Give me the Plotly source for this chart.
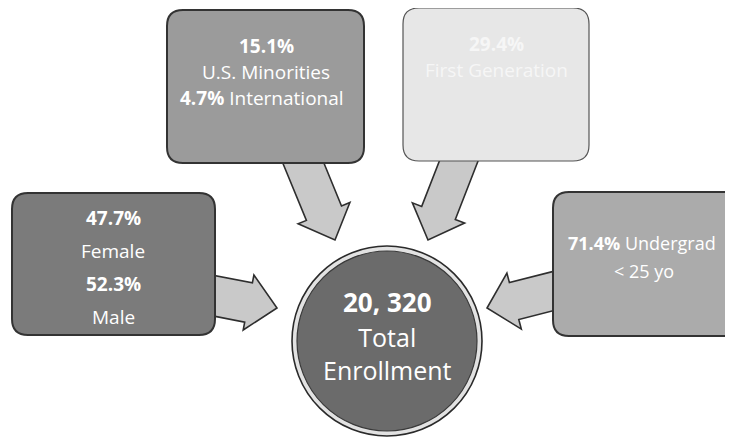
import math
import plotly.graph_objects as go

# ---- data (text values) ----
total_enrollment = "20, 320"
total_label = ["Total", "Enrollment"]
gender_pcts = ["47.7%", "52.3%"]
gender_labels = ["Female", "Male"]
diversity_pcts = ["15.1%", "4.7%"]
diversity_labels = ["U.S. Minorities", "International"]
faint_pct = "29.4%"
faint_label = "First Generation"
age_pct = "71.4%"
age_labels = ["Undergrad", "< 25 yo"]

W, H = 733, 437
OFF = 8  # page body margin
FONT = "Open Sans"

fig = go.Figure()
shapes = []
annotations = []


def rrect(x0, y0, x1, y1, r):
    return (f"M {x0+r},{y0} L {x1-r},{y0} Q {x1},{y0} {x1},{y0+r} "
            f"L {x1},{y1-r} Q {x1},{y1} {x1-r},{y1} L {x0+r},{y1} "
            f"Q {x0},{y1} {x0},{y1-r} L {x0},{y0+r} Q {x0},{y0} {x0+r},{y0} Z")


def arrow(sx, sy, tx, ty, w, hw, hl):
    dx, dy = tx - sx, ty - sy
    L = math.hypot(dx, dy)
    ux, uy = dx / L, dy / L
    nx, ny = -uy, ux
    bx, by = tx - ux * hl, ty - uy * hl
    pts = [(sx + nx * w, sy + ny * w), (bx + nx * w, by + ny * w),
           (bx + nx * hw, by + ny * hw), (tx, ty),
           (bx - nx * hw, by - ny * hw), (bx - nx * w, by - ny * w),
           (sx - nx * w, sy - ny * w)]
    return "M " + " L ".join(f"{x:.1f},{y:.1f}" for x, y in pts) + " Z"


def add_path(path, fill, line="#2e2e2e", width=1.6):
    shapes.append(dict(type="path", path=path, xref="x", yref="y",
                       fillcolor=fill, line=dict(color=line, width=width),
                       layer="above"))


def text(x, y, s, size, color="white"):
    annotations.append(dict(x=x, y=y, xref="x", yref="y", text=s, showarrow=False,
                            font=dict(family=FONT, size=size, color=color),
                            xanchor="center", yanchor="middle"))


ARROW_FILL = "#c9c9c9"
# arrows (drawn first, boxes cover their tails)
add_path(arrow(298, 150, 335, 240, 19, 28, 29), ARROW_FILL)
add_path(arrow(463, 150, 428, 240, 18, 28, 29), ARROW_FILL)
add_path(arrow(205, 294, 277, 308, 20, 28, 29), ARROW_FILL)
add_path(arrow(565, 288, 487, 308, 19, 29, 28), ARROW_FILL)

# boxes
add_path(rrect(167, 10, 364, 163, 16), "#9b9b9b", "#333333", 2)
add_path(rrect(403, 8, 589, 161, 16), "#e7e7e7", "#555555", 1.2)
add_path(rrect(12, 193, 215, 335, 16), "#7b7b7b", "#333333", 2)
add_path(rrect(553, 192, 760, 336, 16), "#ababab", "#333333", 2)

# centre circle with light ring
cx, cy, r = 387, 341, 95
shapes.append(dict(type="circle", xref="x", yref="y", x0=cx - r, x1=cx + r,
                   y0=cy - r, y1=cy + r, fillcolor="#e2e2e2",
                   line=dict(color="#2a2a2a", width=1.6), layer="above"))
r2 = r - 5
shapes.append(dict(type="circle", xref="x", yref="y", x0=cx - r2, x1=cx + r2,
                   y0=cy - r2, y1=cy + r2, fillcolor="#6b6b6b",
                   line=dict(color="#3a3a3a", width=1.2), layer="above"))

# texts
text(266, 46, f"<b>{diversity_pcts[0]}</b>", 19)
text(266, 72, diversity_labels[0], 19)
text(262, 98, f"<b>{diversity_pcts[1]}</b> {diversity_labels[1]}", 19)

text(496, 44, f"<b>{faint_pct}</b>", 19, "#f6f6f6")
text(496, 70, faint_label, 19, "#f6f6f6")

text(113, 218, f"<b>{gender_pcts[0]}</b>", 19)
text(113, 251, gender_labels[0], 19)
text(113, 284, f"<b>{gender_pcts[1]}</b>", 19)
text(113, 317, gender_labels[1], 19)

text(642, 243, f"<b>{age_pct}</b> {age_labels[0]}", 18)
text(644, 271, age_labels[1], 18)

text(387, 302, f"<b>{total_enrollment}</b>", 26)
text(387, 353, "<br>".join(total_label), 25)

fig.update_layout(
    width=W - OFF, height=H - OFF, margin=dict(l=0, r=0, t=0, b=0),
    paper_bgcolor="white", plot_bgcolor="white",
    xaxis=dict(range=[OFF, W], visible=False, fixedrange=True),
    yaxis=dict(range=[H, OFF], visible=False, fixedrange=True),
    shapes=shapes, annotations=annotations, showlegend=False,
    hovermode=False,
)
fig.write_html("out.html", config={"displayModeBar": False})
